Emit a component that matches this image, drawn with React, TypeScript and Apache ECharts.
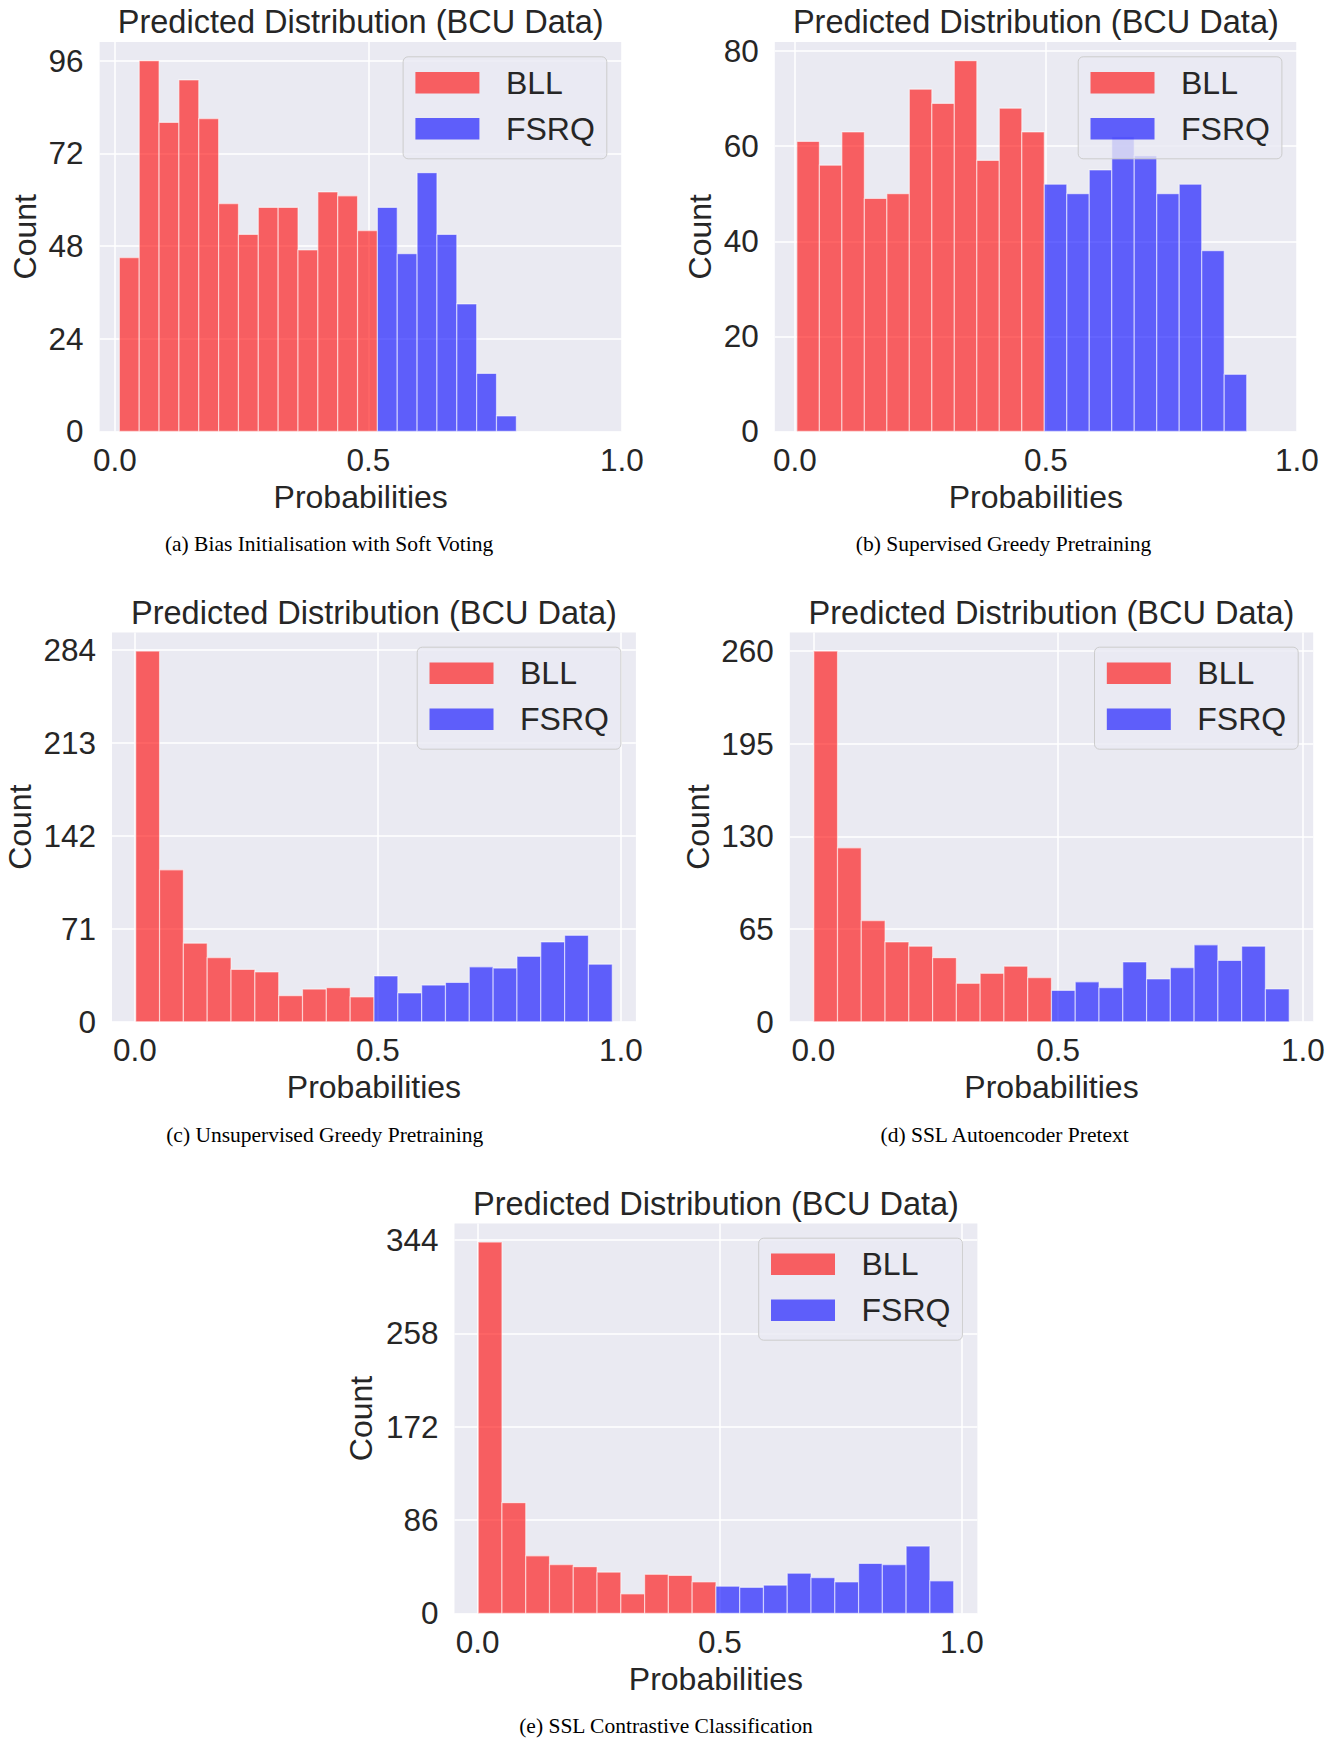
import React, { useEffect, useRef } from 'react';
import * as echarts from 'echarts';

// ---------------- data ----------------
const TITLE = 'Predicted Distribution (BCU Data)';
const X_NAME = 'Probabilities';
const Y_NAME = 'Count';
const SERIES_NAMES = ['BLL', 'FSRQ'];
const CAPTIONS = [
  '(a) Bias Initialisation with Soft Voting',
  '(b) Supervised Greedy Pretraining',
  '(c) Unsupervised Greedy Pretraining',
  '(d) SSL Autoencoder Pretext',
  '(e) SSL Contrastive Classification',
];
const X_TICKS = [0, 0.5, 1.0];

// counts per bin (20 bins each, shared bin edges per panel)
const BLL_A = [45, 96, 80, 91, 81, 59, 51, 58, 58, 47, 62, 61, 52, 0, 0, 0, 0, 0, 0, 0];
const FSRQ_A = [0, 0, 0, 0, 0, 0, 0, 0, 0, 0, 0, 0, 0, 58, 46, 67, 51, 33, 15, 4];
const BLL_B = [61, 56, 63, 49, 50, 72, 69, 78, 57, 68, 63, 0, 0, 0, 0, 0, 0, 0, 0, 0];
const FSRQ_B = [0, 0, 0, 0, 0, 0, 0, 0, 0, 0, 0, 52, 50, 55, 62, 58, 50, 52, 38, 12];
const BLL_C = [283, 116, 60, 49, 40, 38, 20, 25, 26, 19, 0, 0, 0, 0, 0, 0, 0, 0, 0, 0];
const FSRQ_C = [0, 0, 0, 0, 0, 0, 0, 0, 0, 0, 35, 22, 28, 30, 42, 41, 50, 61, 66, 44];
const BLL_D = [260, 122, 71, 56, 53, 45, 27, 34, 39, 31, 0, 0, 0, 0, 0, 0, 0, 0, 0, 0];
const FSRQ_D = [0, 0, 0, 0, 0, 0, 0, 0, 0, 0, 22, 28, 24, 42, 30, 38, 54, 43, 53, 23];
const BLL_E = [342, 102, 53, 45, 43, 38, 18, 36, 35, 29, 0, 0, 0, 0, 0, 0, 0, 0, 0, 0];
const FSRQ_E = [0, 0, 0, 0, 0, 0, 0, 0, 0, 0, 25, 24, 26, 37, 33, 29, 46, 45, 62, 30];

// range of predicted probabilities (histogram bin range) per panel
const BIN_LO = [0.009, 0.004, 0.0018, 0.0009, 0.0009];
const BIN_HI = [0.792, 0.9, 0.9824, 0.972, 0.983];
// axis limits
const X_MIN = [-0.03, -0.04, -0.047, -0.048, -0.048];
const X_MAX = [1.0, 1.0, 1.031, 1.021, 1.032];
const Y_TICKS_A = [0, 24, 48, 72, 96];
const Y_TICKS_B = [0, 20, 40, 60, 80];
const Y_TICKS_C = [0, 71, 142, 213, 284];
const Y_TICKS_D = [0, 65, 130, 195, 260];
const Y_TICKS_E = [0, 86, 172, 258, 344];
const Y_MAX = [100.8, 81.9, 297.15, 273, 359.1];

const BLL = [BLL_A, BLL_B, BLL_C, BLL_D, BLL_E];
const FSRQ = [FSRQ_A, FSRQ_B, FSRQ_C, FSRQ_D, FSRQ_E];
const Y_TICKS = [Y_TICKS_A, Y_TICKS_B, Y_TICKS_C, Y_TICKS_D, Y_TICKS_E];

// ---------------- layout / style ----------------
const W = 1341;
const H = 1738;
const LAYOUT = [
  { left: 99.6, top: 42.1, width: 522.2, height: 389.3, yGap: 58.5, capX: 329 },
  { left: 774.8, top: 42.1, width: 522.1, height: 389.3, yGap: 58.5, capX: 1003.5 },
  { left: 112, top: 632.5, width: 523.9, height: 389.3, yGap: 76, capX: 324.7 },
  { left: 789.8, top: 632.5, width: 523.4, height: 389.3, yGap: 76, capX: 1004.6 },
  { left: 454.5, top: 1223.5, width: 522.9, height: 389.9, yGap: 77.5, capX: 666 },
];
const SANS = '"Liberation Sans", Arial, Helvetica, sans-serif';
const SERIF = '"Liberation Serif", "Times New Roman", serif';
const TEXT = '#262626';
const COLORS = ['rgba(255,0,0,0.6)', 'rgba(0,0,255,0.6)'];

function buildOption() {
  const grid: any[] = [];
  const xAxis: any[] = [];
  const yAxis: any[] = [];
  const legend: any[] = [];
  const series: any[] = [];
  const graphic: any[] = [];

  LAYOUT.forEach((L, i) => {
    grid.push({
      left: L.left,
      top: L.top,
      width: L.width,
      height: L.height,
      show: true,
      backgroundColor: '#EAEAF2',
      borderWidth: 0,
      containLabel: false,
    });
    xAxis.push({
      type: 'value',
      gridIndex: i,
      min: X_MIN[i],
      max: X_MAX[i],
      name: X_NAME,
      nameLocation: 'middle',
      nameGap: 49.5,
      nameTextStyle: { fontSize: 32, color: TEXT, fontFamily: SANS, lineHeight: 32 },
      axisLine: { show: false },
      axisTick: { show: false, customValues: X_TICKS },
      axisLabel: {
        customValues: X_TICKS,
        formatter: (v: number) => v.toFixed(1),
        fontSize: 31.5,
        lineHeight: 31.5,
        color: TEXT,
        fontFamily: SANS,
        margin: 12.5,
      },
      splitLine: { show: true, lineStyle: { color: '#ffffff', width: 1.5 } },
    });
    yAxis.push({
      type: 'value',
      gridIndex: i,
      min: 0,
      max: Y_MAX[i],
      name: Y_NAME,
      nameLocation: 'middle',
      nameRotate: 90,
      nameGap: L.yGap,
      nameTextStyle: { fontSize: 32, color: TEXT, fontFamily: SANS, lineHeight: 32 },
      axisLine: { show: false },
      axisTick: { show: false, customValues: Y_TICKS[i] },
      axisLabel: {
        customValues: Y_TICKS[i],
        formatter: (v: number) => String(Math.round(v)),
        fontSize: 31.5,
        color: TEXT,
        fontFamily: SANS,
        margin: 16,
      },
      splitLine: { show: true, lineStyle: { color: '#ffffff', width: 1.5 } },
    });
    legend.push({
      orient: 'vertical',
      right: W - (L.left + L.width - 15),
      top: L.top + 14.7,
      icon: 'rect',
      itemWidth: 64,
      itemHeight: 21.5,
      itemGap: 6,
      padding: [6, 12, 10, 12.3],
      backgroundColor: 'rgba(234,234,242,0.8)',
      borderColor: '#cccccc',
      borderWidth: 1,
      borderRadius: 5,
      selectedMode: false,
      data: SERIES_NAMES,
      textStyle: { fontSize: 32, color: TEXT, fontFamily: SANS, lineHeight: 40, padding: [0, 0, 0, 21.5] },
    });

    const lo = BIN_LO[i];
    const step = (BIN_HI[i] - BIN_LO[i]) / BLL[i].length;
    [BLL[i], FSRQ[i]].forEach((counts, s) => {
      const data = counts
        .map((c, k) => [lo + k * step, lo + (k + 1) * step, c])
        .filter((d) => d[2] > 0);
      series.push({
        type: 'custom',
        name: SERIES_NAMES[s],
        xAxisIndex: i,
        yAxisIndex: i,
        itemStyle: { color: COLORS[s] },
        encode: { x: [0, 1], y: 2 },
        data,
        renderItem: (params: any, api: any) => {
          const p0 = api.coord([api.value(0), api.value(2)]);
          const p1 = api.coord([api.value(1), 0]);
          return {
            type: 'rect',
            shape: { x: p0[0], y: p0[1], width: p1[0] - p0[0], height: p1[1] - p0[1] },
            style: { fill: api.visual('color'), stroke: 'rgba(255,255,255,0.55)', lineWidth: 1.2 },
          };
        },
      });
    });

    graphic.push({
      type: 'text',
      x: L.left + L.width / 2,
      y: L.top - 20,
      style: { text: TITLE, fontSize: 32.5, fontFamily: SANS, fill: TEXT, align: 'center', verticalAlign: 'middle' },
    });
    graphic.push({
      type: 'text',
      x: L.capX,
      y: L.top + L.height + 113,
      style: { text: CAPTIONS[i], fontSize: 21.5, fontFamily: SERIF, fill: '#000000', align: 'center', verticalAlign: 'middle' },
    });
  });

  return {
    animation: false,
    backgroundColor: '#ffffff',
    grid,
    xAxis,
    yAxis,
    legend,
    series,
    graphic,
  };
}

export default function App() {
  const ref = useRef<HTMLDivElement>(null);
  useEffect(() => {
    document.body.style.margin = '0';
    if (!ref.current) return;
    const chart = echarts.init(ref.current, null, { renderer: 'svg' });
    chart.setOption(buildOption() as any);
    return () => chart.dispose();
  }, []);
  return <div ref={ref} style={{ width: W, height: H, background: '#fff' }} />;
}
